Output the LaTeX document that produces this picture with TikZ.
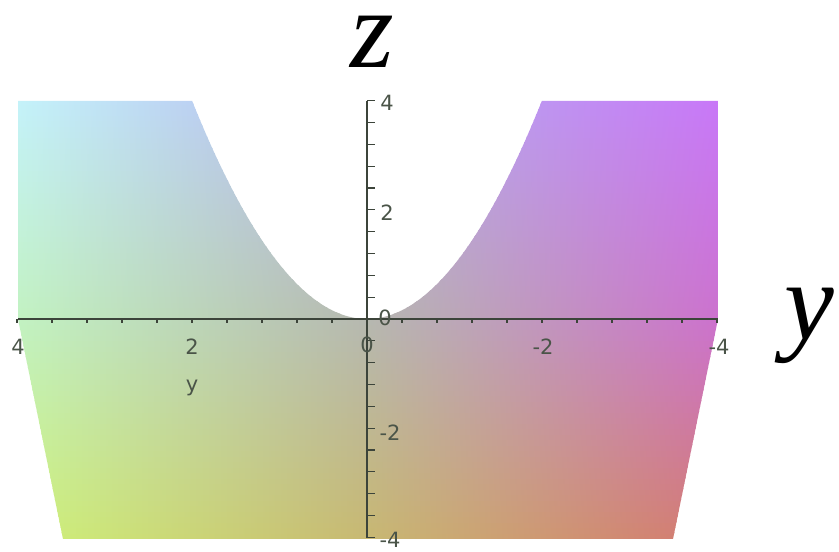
\documentclass[tikz,border=0pt]{standalone}
\usepackage{fontspec}
\setmainfont{Liberation Serif}
\newfontfamily\lblfont{DejaVu Sans}
\definecolor{TL}{HTML}{C4F2FA}
\definecolor{TC}{HTML}{B4B0EC}
\definecolor{TR}{HTML}{C878F8}
\definecolor{ML}{HTML}{C2F2C2}
\definecolor{MC}{HTML}{B6B8B0}
\definecolor{MR}{HTML}{CC72CE}
\definecolor{BL}{HTML}{CEF27A}
\definecolor{BC}{HTML}{C8B872}
\definecolor{BR}{HTML}{D47872}
\definecolor{axiscol}{HTML}{3C443A}
\definecolor{lblcol}{HTML}{4A5448}
\tikzset{
  axisline/.style={draw=axiscol, line width=1.4pt},
  tickline/.style={draw=axiscol, line width=1.2pt},
  ticklbl/.style={font=\lblfont\fontsize{21}{24}\selectfont, text=lblcol, inner sep=0pt},
  biglbl/.style={font=\itshape\fontsize{112}{120}\selectfont, text=black, inner sep=0pt}
}
\begin{document}
\begin{tikzpicture}[x=1pt,y=1pt]
\useasboundingbox (0,0) rectangle (839,552);
% coloured surface
\begin{scope}
\clip (18,451) -- (192,451)
  -- plot[domain=2:-2,samples=81] ({367-87.5*\x},{233+54.6*\x*\x})
  -- (718,451) -- (718,233) -- (673,13) -- (63,13) -- (18,233) -- cycle;
\foreach \i in {0,...,79} {
  \pgfmathsetmacro{\ya}{13+\i*5.5}
  \pgfmathsetmacro{\zc}{(\ya+2.75-233)/54.6}
  \pgfmathtruncatemacro{\p}{min(100,abs(\zc)*25)}
  \ifdim \zc pt<0pt
    \colorlet{cl}{BL!\p!ML}\colorlet{cm}{BC!\p!MC}\colorlet{cr}{BR!\p!MR}
  \else
    \colorlet{cl}{TL!\p!ML}\colorlet{cm}{TC!\p!MC}\colorlet{cr}{TR!\p!MR}
  \fi
  \shade[left color=cl, right color=cr, middle color=cm] (18,\ya) rectangle (718,\ya+6.2);
}
\end{scope}
% axes
\coordinate (hL) at (18,233);
\coordinate (hR) at (718,233);
\coordinate (vT) at (367,451);
\coordinate (vB) at (367,14);
\draw[axisline] (hL) -- (hR);
\draw[axisline] (vT) -- (vB);
\foreach \k in {-10,...,10} \draw[tickline] ({367-35*\k},233) -- ++(0,-4);
\foreach \k in {-10,...,10} \draw[tickline] (367,{233+21.84*\k}) -- ++(8,0);
% horizontal tick labels
\node[ticklbl] (h4) at (18,205) {4};
\node[ticklbl] (h2) at (192,205) {2};
\node[ticklbl] (h0) at (367,207) {0};
\node[ticklbl] (hm2) at (543,205) {-2};
\node[ticklbl] (hm4) at (719,205) {-4};
\node[ticklbl] (ylab) at (192,164) {y};
% vertical tick labels
\node[ticklbl] (v4) at (387,449) {4};
\node[ticklbl] (v2) at (387,339) {2};
\node[ticklbl] (v0) at (385,234) {0};
\node[ticklbl] (vm2) at (390,119) {-2};
\node[ticklbl] (vm4) at (390,12) {-4};
% big axis names
\node[biglbl] (Z) at (372,510) {z};
\node[biglbl] (Y) at (809,226) {y};
\end{tikzpicture}
\end{document}
